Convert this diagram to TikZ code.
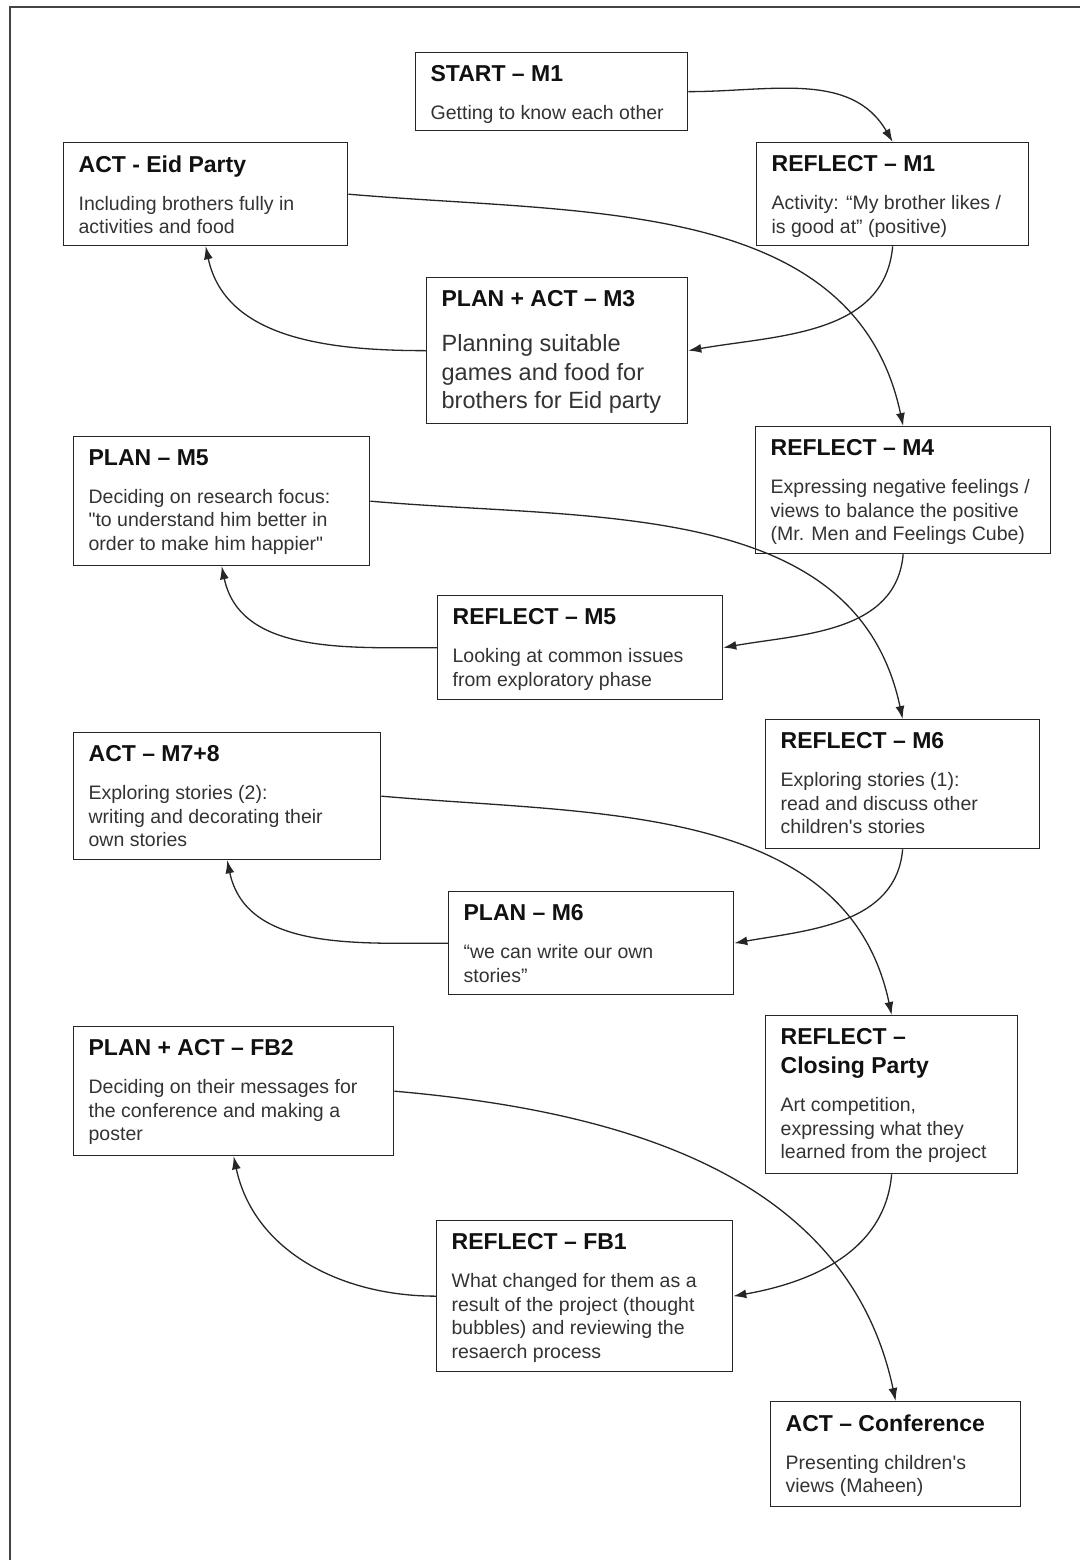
\documentclass[tikz,border=0pt]{standalone}
\usepackage{fontspec}
\setmainfont{Liberation Sans}[Ligatures=TeXOff]
\usetikzlibrary{arrows.meta}
\definecolor{titlec}{HTML}{111111}
\definecolor{bodyc}{HTML}{333333}
\definecolor{framec}{HTML}{444444}
\newcommand\bodyfont{\fontsize{19.5}{23.5}\selectfont}
\newcommand\bigbodyfont{\fontsize{23.5}{28.5}\selectfont}
% #1 width, #2 height, #3 title, #4 body, #5 body font, #6 gap
\newcommand\stagebox[6]{\parbox[c][#2][t]{#1}{\leftskip=15pt\rightskip=0pt plus 1fil\parindent=0pt
\vspace*{13pt}{\fontsize{23}{29}\selectfont\bfseries\leavevmode\color{titlec}#3\par}%
\vspace{#6}{#5\leavevmode\color{bodyc}#4\par}}}
\tikzset{
  stage/.style={draw=black!85, line width=1.3pt, fill=white, inner sep=0pt, anchor=north west},
  flow/.style={draw=black!85, line width=1.3pt, -{Latex[length=13pt,width=9pt]}},
}
\begin{document}
\begin{tikzpicture}[x=1pt,y=-1pt]
\useasboundingbox (0,0) rectangle (1080,1560);
\draw[framec, line width=1.3pt] (10,1560) -- (10,7) -- (1080,7);

\node[stage] (start) at (415,52) {\stagebox{272pt}{78pt}{START – M1}{Getting to know each other}{\bodyfont}{14.5pt}};
\node[stage] (reflA) at (756,142) {\stagebox{272pt}{103pt}{REFLECT – M1}{Activity: “My brother likes /\\is good at” (positive)}{\bodyfont}{14.5pt}};
\node[stage] (eid) at (63,142) {\stagebox{284pt}{103pt}{ACT - Eid Party}{Including brothers fully in\\activities and food}{\bodyfont}{14.5pt}};
\node[stage] (m3) at (426,277) {\stagebox{261pt}{146pt}{PLAN + ACT – M3}{Planning suitable\\games and food for\\brothers for Eid party}{\bigbodyfont}{16.5pt}};
\node[stage] (m4) at (755,426) {\stagebox{295pt}{127pt}{REFLECT – M4}{Expressing negative feelings /\\views to balance the positive\\(Mr. Men and Feelings Cube)}{\bodyfont}{14.5pt}};
\node[stage] (pm5) at (73,436) {\stagebox{296pt}{129pt}{PLAN – M5}{Deciding on research focus:\\"to understand him better in\\order to make him happier"}{\bodyfont}{14.5pt}};
\node[stage] (m5) at (437,595) {\stagebox{285pt}{104pt}{REFLECT – M5}{Looking at common issues\\from exploratory phase}{\bodyfont}{14.5pt}};
\node[stage] (m78) at (73,732) {\stagebox{307pt}{127pt}{ACT – M7+8}{Exploring stories (2):\\writing and decorating their\\own stories}{\bodyfont}{14.5pt}};
\node[stage] (m6) at (765,719) {\stagebox{274pt}{129pt}{REFLECT – M6}{Exploring stories (1):\\read and discuss other\\children's stories}{\bodyfont}{14.5pt}};
\node[stage] (pm6) at (448,891) {\stagebox{285pt}{103pt}{PLAN – M6}{“we can write our own\\stories”}{\bodyfont}{14.5pt}};
\node[stage] (closing) at (765,1015) {\stagebox{252pt}{158pt}{REFLECT –\\Closing Party}{Art competition,\\expressing what they\\learned from the project}{\bodyfont}{14.5pt}};
\node[stage] (fb2) at (73,1026) {\stagebox{320pt}{129pt}{PLAN + ACT – FB2}{Deciding on their messages for\\the conference and making a\\poster}{\bodyfont}{14.5pt}};
\node[stage] (fb1) at (436,1220) {\stagebox{296pt}{151pt}{REFLECT – FB1}{What changed for them as a\\result of the project (thought\\bubbles) and reviewing the\\resaerch process}{\bodyfont}{14.5pt}};
\node[stage] (conf) at (770,1401) {\stagebox{250pt}{105pt}{ACT – Conference}{Presenting children's\\views (Maheen)}{\bodyfont}{14.5pt}};

\draw[flow] (start.east) to[out=0,in=120] (reflA.north);
\draw[flow] (reflA.south) to[out=-95,in=10] (m3.east);
\draw[flow] (m3.west) to[out=180,in=-78] (eid.south);
\draw[flow] (eid.east) to[out=-5,in=102] (m4.north);
\draw[flow] (m4.south) to[out=-95,in=10] (m5.east);
\draw[flow] (m5.west) to[out=180,in=-78] (pm5.south);
\draw[flow] (pm5.east) to[out=-5,in=102] (m6.north);
\draw[flow] (m6.south) to[out=-95,in=10] (pm6.east);
\draw[flow] (pm6.west) to[out=180,in=-78] (m78.south);
\draw[flow] (m78.east) to[out=-5,in=102] (closing.north);
\draw[flow] (closing.south) to[out=-95,in=10] (fb1.east);
\draw[flow] (fb1.west) to[out=180,in=-78] (fb2.south);
\draw[flow] (fb2.east) to[out=-5,in=102] (conf.north);
\end{tikzpicture}
\end{document}
